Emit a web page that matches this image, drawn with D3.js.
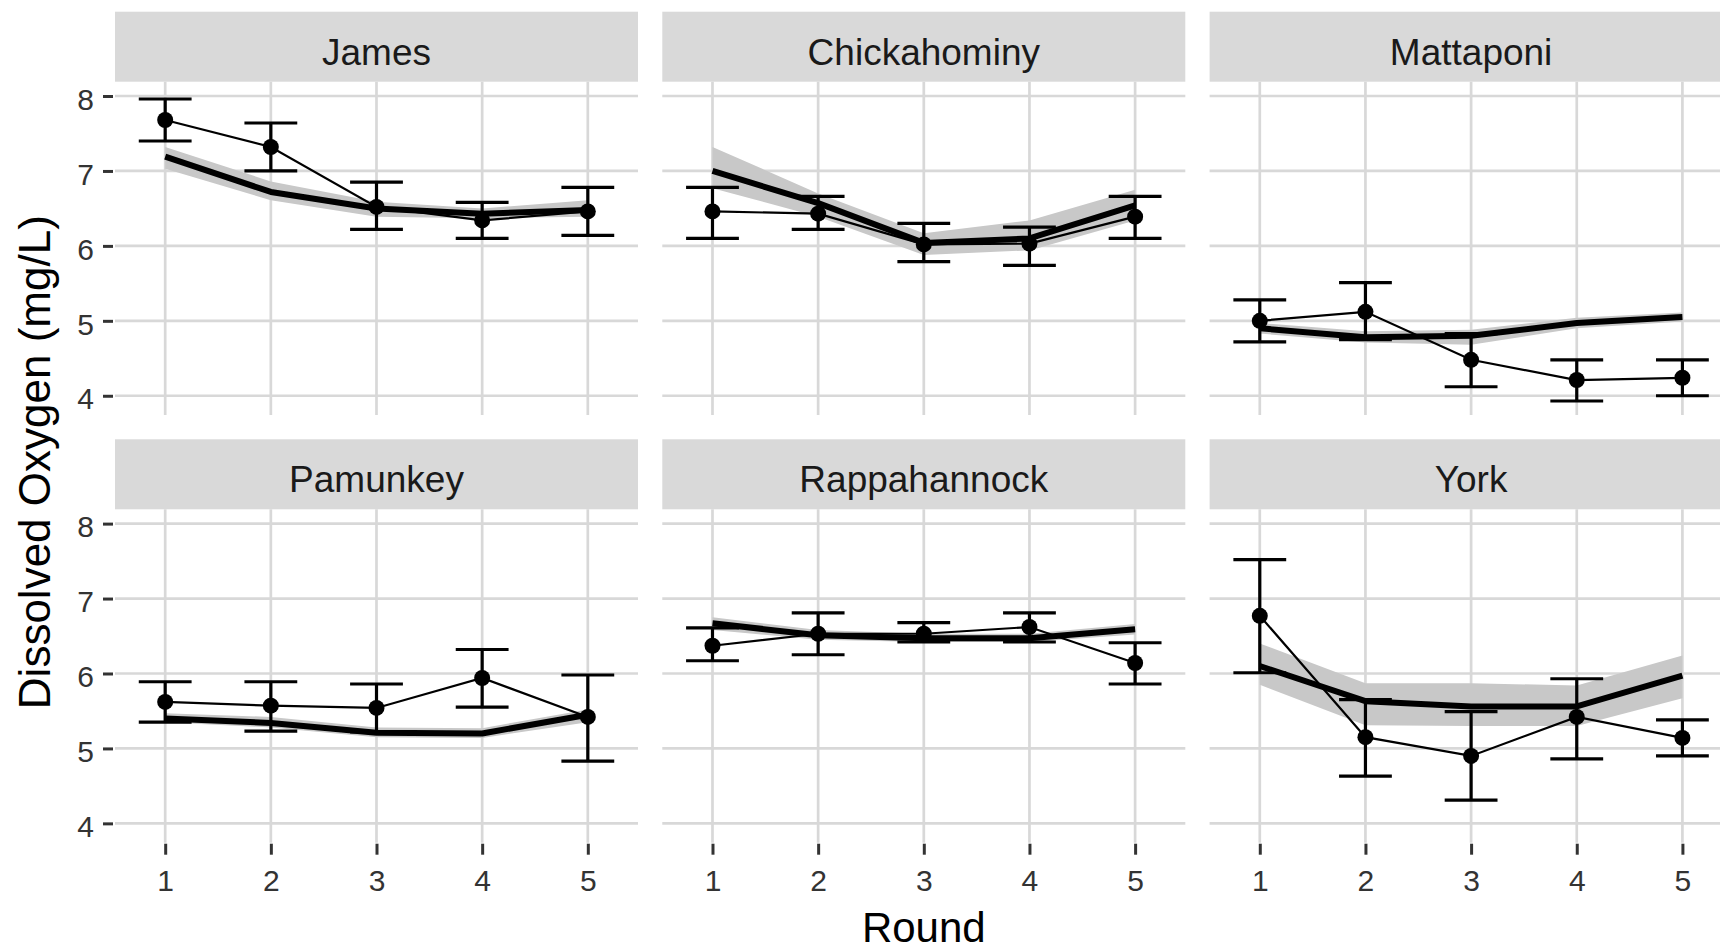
<!DOCTYPE html>
<html>
<head>
<meta charset="utf-8">
<script src="https://cdn.jsdelivr.net/npm/d3@7"></script>
<style>
  html, body { margin: 0; padding: 0; background: #ffffff; }
  svg { display: block; font-family: "Liberation Sans", Arial, sans-serif; }
</style>
</head>
<body>
<svg id="chart" width="1720" height="952"></svg>
<script>
// ---------------- data ----------------
const rivers = ["James", "Chickahominy", "Mattaponi", "Pamunkey", "Rappahannock", "York"];
const rounds = [1, 2, 3, 4, 5];
const yTicks = [4, 5, 6, 7, 8];
const xTickLabels = ["1", "2", "3", "4", "5"];

// observed means with error bars (one row per river, one value per round)
const obsMean = [
  [7.68, 7.32, 6.52, 6.34, 6.46],
  [6.46, 6.43, 6.02, 6.03, 6.39],
  [5.00, 5.12, 4.48, 4.21, 4.24],
  [5.62, 5.57, 5.54, 5.94, 5.42],
  [6.37, 6.53, 6.53, 6.62, 6.14],
  [6.77, 5.15, 4.90, 5.42, 5.14]
];
const obsUpper = [
  [7.96, 7.64, 6.85, 6.58, 6.78],
  [6.78, 6.66, 6.30, 6.25, 6.66],
  [5.28, 5.51, 4.83, 4.48, 4.48],
  [5.89, 5.89, 5.86, 6.32, 5.98],
  [6.61, 6.81, 6.68, 6.81, 6.41],
  [7.52, 5.65, 5.49, 5.93, 5.38]
];
const obsLower = [
  [7.40, 7.00, 6.22, 6.10, 6.14],
  [6.10, 6.22, 5.79, 5.74, 6.10],
  [4.72, 4.75, 4.12, 3.93, 4.00],
  [5.35, 5.23, 5.22, 5.55, 4.83],
  [6.17, 6.25, 6.42, 6.42, 5.86],
  [6.01, 4.63, 4.31, 4.86, 4.90]
];
// model fit with confidence band
const fitMean = [
  [7.19, 6.72, 6.50, 6.43, 6.48],
  [7.00, 6.57, 6.04, 6.10, 6.54],
  [4.90, 4.78, 4.80, 4.97, 5.05],
  [5.40, 5.34, 5.21, 5.20, 5.45],
  [6.67, 6.51, 6.47, 6.47, 6.59],
  [6.10, 5.63, 5.56, 5.56, 5.97]
];
const fitUpper = [
  [7.32, 6.86, 6.59, 6.50, 6.61],
  [7.32, 6.70, 6.17, 6.34, 6.75],
  [4.97, 4.86, 4.88, 5.04, 5.11],
  [5.47, 5.42, 5.28, 5.27, 5.52],
  [6.75, 6.58, 6.53, 6.53, 6.66],
  [6.40, 5.87, 5.87, 5.84, 6.24]
];
const fitLower = [
  [7.03, 6.61, 6.39, 6.37, 6.39],
  [6.77, 6.39, 5.88, 5.94, 6.34],
  [4.83, 4.71, 4.68, 4.90, 4.99],
  [5.35, 5.28, 5.15, 5.14, 5.35],
  [6.58, 6.45, 6.42, 6.42, 6.52],
  [5.85, 5.31, 5.30, 5.30, 5.67]
];

// ---------------- layout ----------------
const panelLeft0 = 115, colStep = 547.3, panelW = 523;
const stripTop0 = 11.7, rowStep = 427.6, stripH = 70, panelH = 333.4;
const nCols = 3;

const svg = d3.select("#chart");

const x = d3.scaleLinear().domain([0.525, 5.475]).range([0, panelW]);
const y = d3.scaleLinear().domain([3.742, 8.191]).range([panelH, 0]);
const capHalf = x(1.25) - x(1);

const gridColor = "#d8d8d8";

rivers.forEach((name, i) => {
  const col = i % nCols, row = Math.floor(i / nCols);
  const left = panelLeft0 + col * colStep;
  const stripTop = stripTop0 + row * rowStep;
  const top = stripTop + stripH;

  // strip
  svg.append("rect")
    .attr("x", left).attr("y", stripTop)
    .attr("width", panelW).attr("height", stripH)
    .attr("fill", "#d9d9d9");
  svg.append("text")
    .attr("x", left + panelW / 2).attr("y", stripTop + 53)
    .attr("text-anchor", "middle")
    .attr("font-size", 37)
    .attr("fill", "#1a1a1a")
    .text(name);

  const g = svg.append("g").attr("transform", `translate(${left},${top})`);

  // grid
  g.selectAll(".hg").data(yTicks).enter().append("line")
    .attr("x1", 0).attr("x2", panelW)
    .attr("y1", d => y(d)).attr("y2", d => y(d))
    .attr("stroke", gridColor).attr("stroke-width", 2.7);
  g.selectAll(".vg").data(rounds).enter().append("line")
    .attr("x1", d => x(d)).attr("x2", d => x(d))
    .attr("y1", 0).attr("y2", panelH)
    .attr("stroke", gridColor).attr("stroke-width", 2.7);

  const idx = rounds.map((r, k) => k);

  // ribbon
  const area = d3.area()
    .x(k => x(rounds[k]))
    .y0(k => y(fitLower[i][k]))
    .y1(k => y(fitUpper[i][k]));
  g.append("path").datum(idx)
    .attr("d", area)
    .attr("fill", "#c8c8c8");

  // fit line
  const fitLine = d3.line().x(k => x(rounds[k])).y(k => y(fitMean[i][k]));
  g.append("path").datum(idx)
    .attr("d", fitLine)
    .attr("fill", "none").attr("stroke", "#000").attr("stroke-width", 6)
    .attr("stroke-linejoin", "round");

  // observed line
  const obsLine = d3.line().x(k => x(rounds[k])).y(k => y(obsMean[i][k]));
  g.append("path").datum(idx)
    .attr("d", obsLine)
    .attr("fill", "none").attr("stroke", "#000").attr("stroke-width", 2.2);

  // error bars
  const eb = g.selectAll(".eb").data(idx).enter().append("g");
  eb.append("line")
    .attr("x1", k => x(rounds[k])).attr("x2", k => x(rounds[k]))
    .attr("y1", k => y(obsLower[i][k])).attr("y2", k => y(obsUpper[i][k]))
    .attr("stroke", "#000").attr("stroke-width", 3.2);
  eb.append("line")
    .attr("x1", k => x(rounds[k]) - capHalf).attr("x2", k => x(rounds[k]) + capHalf)
    .attr("y1", k => y(obsUpper[i][k])).attr("y2", k => y(obsUpper[i][k]))
    .attr("stroke", "#000").attr("stroke-width", 3.2);
  eb.append("line")
    .attr("x1", k => x(rounds[k]) - capHalf).attr("x2", k => x(rounds[k]) + capHalf)
    .attr("y1", k => y(obsLower[i][k])).attr("y2", k => y(obsLower[i][k]))
    .attr("stroke", "#000").attr("stroke-width", 3.2);

  // points
  g.selectAll(".pt").data(idx).enter().append("circle")
    .attr("cx", k => x(rounds[k])).attr("cy", k => y(obsMean[i][k]))
    .attr("r", 8).attr("fill", "#000");

  // y axis on left column
  if (col === 0) {
    const ya = d3.axisLeft(y).tickValues(yTicks).tickSize(10).tickPadding(9)
      .tickFormat(d3.format("d"));
    const axG = g.append("g").attr("transform", "translate(-2,0)").call(ya);
    axG.select(".domain").remove();
    axG.selectAll(".tick line").attr("stroke", "#333").attr("stroke-width", 3);
    axG.selectAll(".tick text")
      .attr("font-size", 30).attr("fill", "#333")
      .attr("font-family", "Liberation Sans, Arial, sans-serif")
      .attr("dy", "0.44em");
  }
  // x axis on bottom row
  if (row === 1) {
    const xa = d3.axisBottom(x).tickValues(rounds).tickSize(11).tickPadding(15)
      .tickFormat((d, k) => xTickLabels[k]);
    const axG = g.append("g").attr("transform", `translate(0,${panelH + 1})`).call(xa);
    axG.select(".domain").remove();
    axG.selectAll(".tick line").attr("stroke", "#333").attr("stroke-width", 3);
    axG.selectAll(".tick text")
      .attr("font-size", 30).attr("fill", "#333")
      .attr("font-family", "Liberation Sans, Arial, sans-serif");
  }
});

// axis titles
const panelsTop = stripTop0 + stripH;
const panelsBottom = stripTop0 + rowStep + stripH + panelH;
svg.append("text")
  .attr("transform", `translate(50,${(panelsTop + panelsBottom) / 2}) rotate(-90)`)
  .attr("text-anchor", "middle")
  .attr("font-size", 44)
  .attr("fill", "#000")
  .text("Dissolved Oxygen (mg/L)");
svg.append("text")
  .attr("x", panelLeft0 + (2 * colStep + panelW) / 2)
  .attr("y", 942)
  .attr("text-anchor", "middle")
  .attr("font-size", 42)
  .attr("fill", "#000")
  .text("Round");
</script>
</body>
</html>
